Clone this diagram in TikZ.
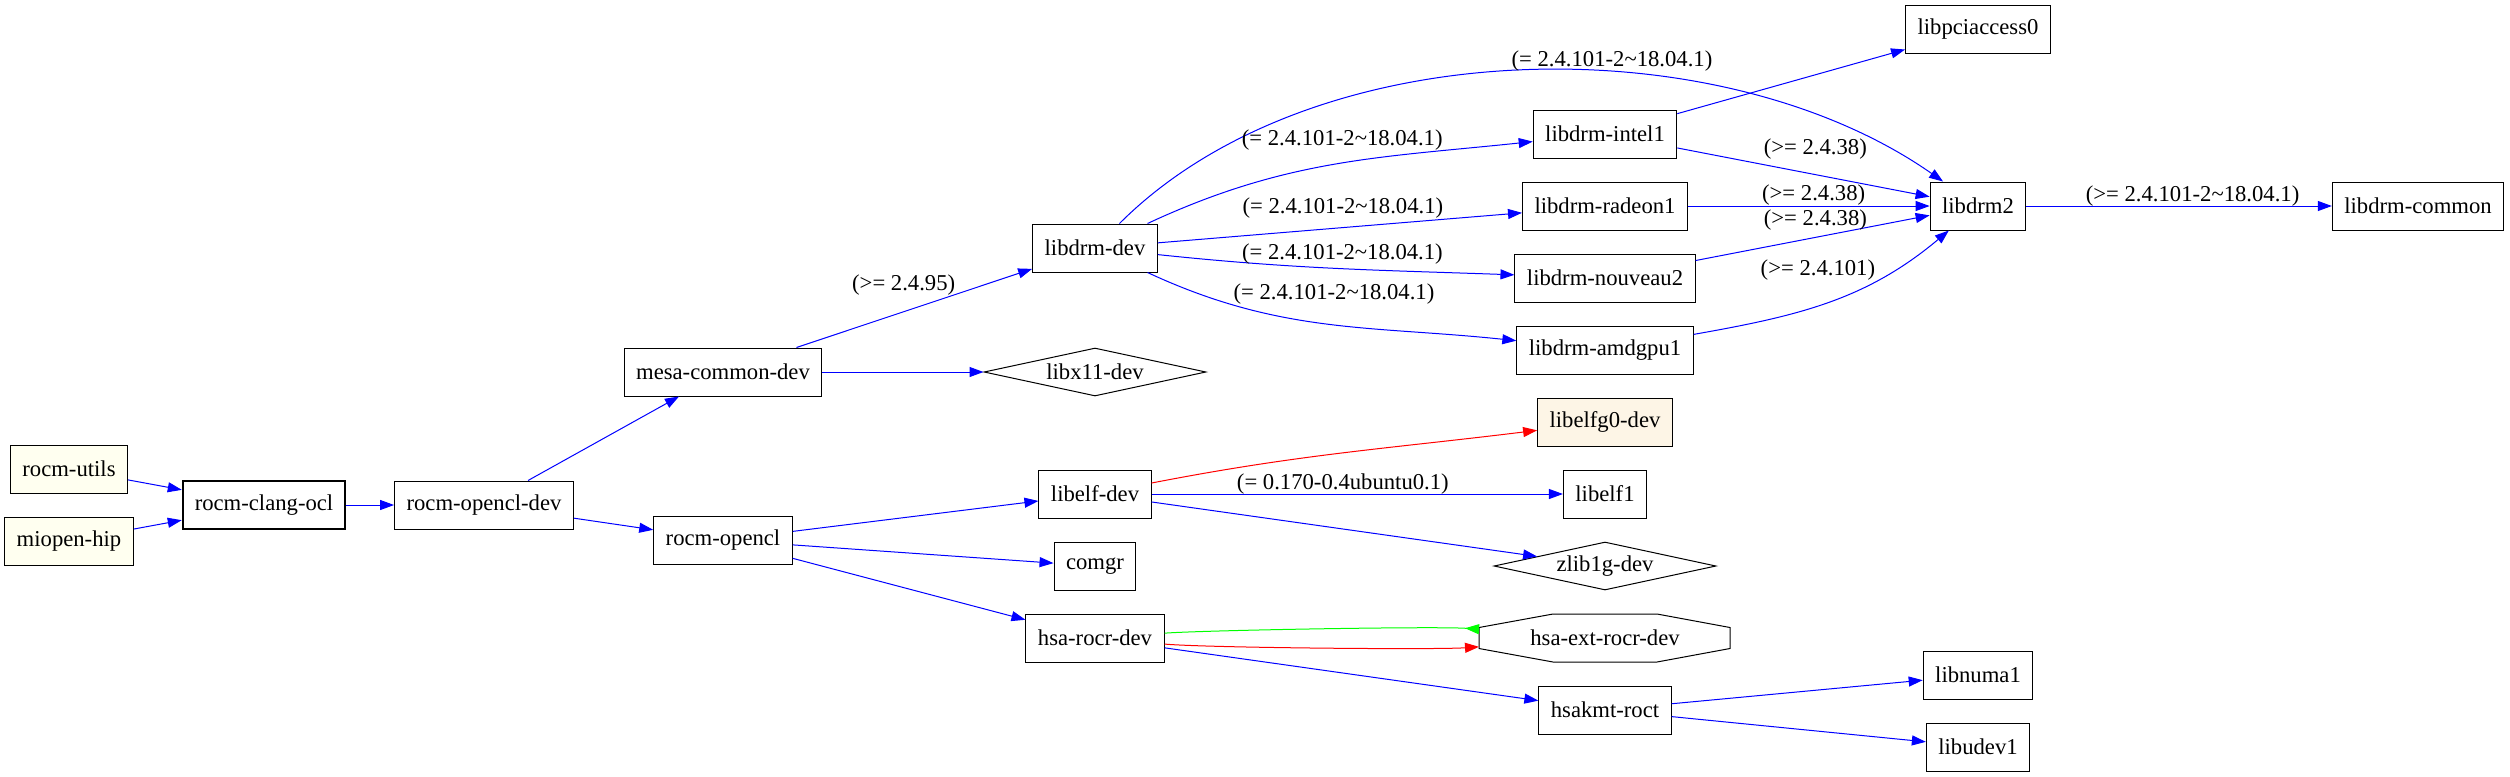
\documentclass[tikz,border=0pt]{standalone}
\usepackage{fontspec}
\setmainfont{Liberation Serif}
\usetikzlibrary{arrows.meta, positioning, shapes.geometric}
\definecolor{ivory}{HTML}{FFFFF0}
\definecolor{oldlace}{HTML}{FDF5E6}

\begin{document}
\begin{tikzpicture}[x=0.75pt, y=-0.75pt, on grid, line width=0.75pt,
  >={Triangle[length=10.5pt,width=7.5pt]},
  every node/.style={font=\fontsize{17}{20}\selectfont},
  pkg/.style={draw, rectangle, minimum height=36pt, inner xsep=9pt, inner ysep=0pt},
  root/.style={pkg, line width=1.5pt},
  wanted/.style={pkg, fill=ivory},
  missing/.style={pkg, fill=oldlace},
  virt/.style={draw, diamond, aspect=4.6, inner sep=0pt, minimum width=166.5pt, minimum height=36pt},
  octo/.style={rectangle, minimum width=188.25pt, minimum height=36pt},
  ver/.style={inner sep=0pt, text=black}]

  \useasboundingbox (0,0) rectangle (2510,776);

% define the packages
  \node[root]    (clangocl)  at (264,505)
{rocm-clang-ocl};
  \node[wanted]  (rocmutils)  [above left=27pt and 146.25pt of clangocl]
{rocm-utils};
  \node[wanted]  (miopenhip)  [below left=27pt and 146.25pt of clangocl]
{miopen-hip};
  \node[pkg]     (opencldev)  [right=165pt of clangocl]
{rocm-opencl-dev};
  \node[pkg]     (mesadev)    [above right=99.75pt and 179.25pt of opencldev]
{mesa-common-dev};
  \node[pkg]     (opencl)     [below right=26.25pt and 179.25pt of opencldev]
{rocm-opencl};
  \node[pkg]     (drmdev)     [above right=93pt and 279pt of mesadev]
{libdrm-dev};
  \node[virt]    (x11dev)     [right=279pt of mesadev]
{libx11-dev};
  \node[pkg]     (elfdev)     [above right=34.5pt and 279pt of opencl]
{libelf-dev};
  \node[pkg]     (comgr)      [below right=19.5pt and 279pt of opencl]
{comgr};
  \node[pkg]     (rocrdev)    [below=54pt of comgr]
{hsa-rocr-dev};
  \node[pkg]     (drmradeon)  [above right=31.5pt and 382.5pt of drmdev]
{libdrm-radeon1};
  \node[pkg]     (drmintel)   [above=54pt of drmradeon]
{libdrm-intel1};
  \node[pkg]     (drmnouveau) [below=54pt of drmradeon]
{libdrm-nouveau2};
  \node[pkg]     (drmamdgpu)  [below=54pt of drmnouveau]
{libdrm-amdgpu1};
  \node[pkg]     (drm2)       [right=279.75pt of drmradeon]
{libdrm2};
  \node[pkg]     (pciaccess)  [above=132.75pt of drm2]
{libpciaccess0};
  \node[pkg]     (drmcommon)  [right=330pt of drm2]
{libdrm-common};
  \node[pkg]     (elf1)       [right=382.5pt of elfdev]
{libelf1};
  \node[missing] (elfgdev)    [above=54pt of elf1]
{libelfg0-dev};
  \node[virt]    (zlibdev)    [right=382.5pt of comgr]
{zlib1g-dev};
  \node[octo]    (extrocr)    [right=382.5pt of rocrdev]
{hsa-ext-rocr-dev};
  \node[pkg]     (hsakmt)     [below=54pt of extrocr]
{hsakmt-roct};
  \node[pkg]     (numa)       [above right=26.25pt and 279.75pt of hsakmt]
{libnuma1};
  \node[pkg]     (udev)       [below right=27.75pt and 279.75pt of hsakmt]
{libudev1};

% outline of the octagon
  \draw (extrocr.west) ++(0,-10.5) -- ++(74,-13.5) -- ++(104,0) -- ++(73,13.5)
    -- ++(0,21) -- ++(-73,13.5) -- ++(-104,0) -- ++(-74,-13.5) -- cycle;

% define the dependencies
  \path[->, blue] (rocmutils) edge (clangocl)
        (miopenhip) edge (clangocl)
        (clangocl) edge (opencldev)
        (opencldev) edge (mesadev)
             edge (opencl)
        (mesadev) edge node[ver, pos=0.455, yshift=20.25pt] {(>= 2.4.95)} (drmdev)
             edge (x11dev)
        (drmdev) edge [out=45, in=145, looseness=0.85] node[ver, pos=0.6, yshift=9pt] {(= 2.4.101-2\textasciitilde18.04.1)} (drm2)
             edge [out=25, in=186] node[ver, pos=0.52, yshift=17.5pt] {(= 2.4.101-2\textasciitilde18.04.1)} (drmintel)
             edge node[ver, pos=0.508, yshift=14.7pt] {(= 2.4.101-2\textasciitilde18.04.1)} (drmradeon)
             edge [out=-6, in=178] node[ver, pos=0.52, yshift=11.25pt] {(= 2.4.101-2\textasciitilde18.04.1)} (drmnouveau)
             edge [out=-25, in=174] node[ver, pos=0.52, yshift=23pt] {(= 2.4.101-2\textasciitilde18.04.1)} (drmamdgpu)
        (drmintel) edge (pciaccess)
             edge node[ver, pos=0.547, yshift=19pt] {(>= 2.4.38)} (drm2)
        (drmradeon) edge node[ver, pos=0.52, yshift=8.25pt] {(>= 2.4.38)} (drm2)
        (drmnouveau) edge node[ver, pos=0.512, yshift=13pt] {(>= 2.4.38)} (drm2)
        (drmamdgpu) edge [out=10, in=220] node[ver, pos=0.45, yshift=27pt] {(>= 2.4.101)} (drm2)
        (drm2) edge node[ver, pos=0.544, yshift=7.5pt] {(>= 2.4.101-2\textasciitilde18.04.1)} (drmcommon)
        (opencl) edge (elfdev)
             edge (comgr)
             edge (rocrdev)
        (elfdev) edge [red, out=11, in=187] (elfgdev)
             edge node[ver, pos=0.465, yshift=7.5pt] {(= 0.170-0.4ubuntu0.1)} (elf1)
             edge (zlibdev)
        (rocrdev) edge [green, -{Triangle[reversed,length=10.5pt,width=7.5pt]}, out=4, in=176, looseness=0.35] (extrocr)
             edge [red, out=-5, in=184, looseness=0.35] (extrocr)
             edge (hsakmt)
        (hsakmt) edge (numa)
             edge (udev);

\end{tikzpicture}
\end{document}
